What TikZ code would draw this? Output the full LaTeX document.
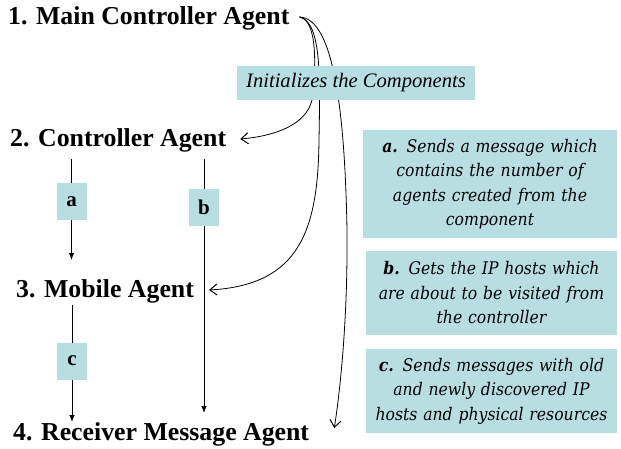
\documentclass[tikz,border=0pt]{standalone}
\usepackage{fontspec}
\setmainfont{Liberation Serif}
\newfontfamily\notefont{DejaVu Serif}[FakeStretch=0.9]
\usetikzlibrary{arrows.meta,backgrounds}
\definecolor{boxblue}{RGB}{185,222,226}

\begin{document}
\begin{tikzpicture}[x=1pt,y=-1pt,
  agent/.style={font=\bfseries\fontsize{25.8}{30}\selectfont, inner sep=0pt, anchor=base west},
  letterbox/.style={fill=boxblue, minimum width=30pt, minimum height=37pt, inner sep=0pt,
    font=\bfseries\fontsize{21}{24}\selectfont},
  initbox/.style={fill=boxblue, minimum width=238pt, minimum height=34pt, inner sep=0pt,
    font=\itshape\fontsize{20.6}{24}\selectfont},
  notebox/.style={fill=boxblue, inner sep=0pt, align=center, text width=246pt,
    font=\notefont\itshape\fontsize{17.4}{24.5}\selectfont},
  vline/.style={line width=0.8pt, -{Latex[length=7pt,width=5.5pt]}},
  initline/.style={line width=0.8pt, -{Straight Barb[length=7pt,width=11pt,line width=1pt]}}
]
\useasboundingbox (0,0) rectangle (621,449);

% agents
\node[agent] (n1) at (8,25)   {1. Main Controller Agent};
\node[agent] (n2) at (10,147) {2. Controller Agent};
\node[agent] (n3) at (16,297) {3. Mobile Agent};
\node[agent] (n4) at (13,440) {4. Receiver Message Agent};

% labels on the message lines
\node[letterbox] (boxa) at (71.5,201.5) {a};
\node[letterbox] (boxb) at (204,207.5)  {b};
\node[letterbox] (boxc) at (72,361)     {c};

% caption over the initialisation curves
\node[initbox] (init) at (356,83) {Initializes the Components};

% explanations
\node[notebox, minimum width=254pt, minimum height=108pt] (nota) at (490,184)
  {\textbf{a.} Sends a message which\\contains the number of\\agents created from the\\component};
\node[notebox, minimum width=251pt, minimum height=84pt] (notb) at (491.5,293)
  {\textbf{b.} Gets the IP hosts which\\are about to be visited from\\the controller};
\node[notebox, minimum width=251pt, minimum height=84pt] (notc) at (491.5,391)
  {\textbf{c.} Sends messages with old\\and newly discovered IP\\hosts and physical resources};

\coordinate (src) at ([xshift=10pt,yshift=8pt]n1.base east);

\begin{pgfonlayer}{background}
  \fill[white] (0,0) rectangle (621,449);
  % message lines
  \draw[vline, shorten <=12pt, shorten >=37pt] (boxa |- n2.base) -- (boxa |- n3.base);
  \draw[vline, shorten <=12pt, shorten >=27pt] (boxb |- n2.base) -- (boxb |- n4.base);
  \draw[vline, shorten <=8pt,  shorten >=18pt] (boxc |- n3.base) -- (boxc |- n4.base);
  % initialisation curves
  \draw[initline] (src) .. controls (318,20) and (316,70) .. (312,100)
    .. controls (306,125) and (275,136) .. ([xshift=14pt,yshift=8pt]n2.base east);
  \draw[initline] (src) .. controls (322,22) and (320,80) .. (319,140)
    .. controls (318,230) and (300,285) .. ([xshift=15pt,yshift=7pt]n3.base east);
  \draw[initline] (src) .. controls (335,18) and (345,120) .. (347,230)
    .. controls (348,330) and (338,405) .. ([xshift=25pt,yshift=12pt]n4.base east);
\end{pgfonlayer}
\end{tikzpicture}
\end{document}
